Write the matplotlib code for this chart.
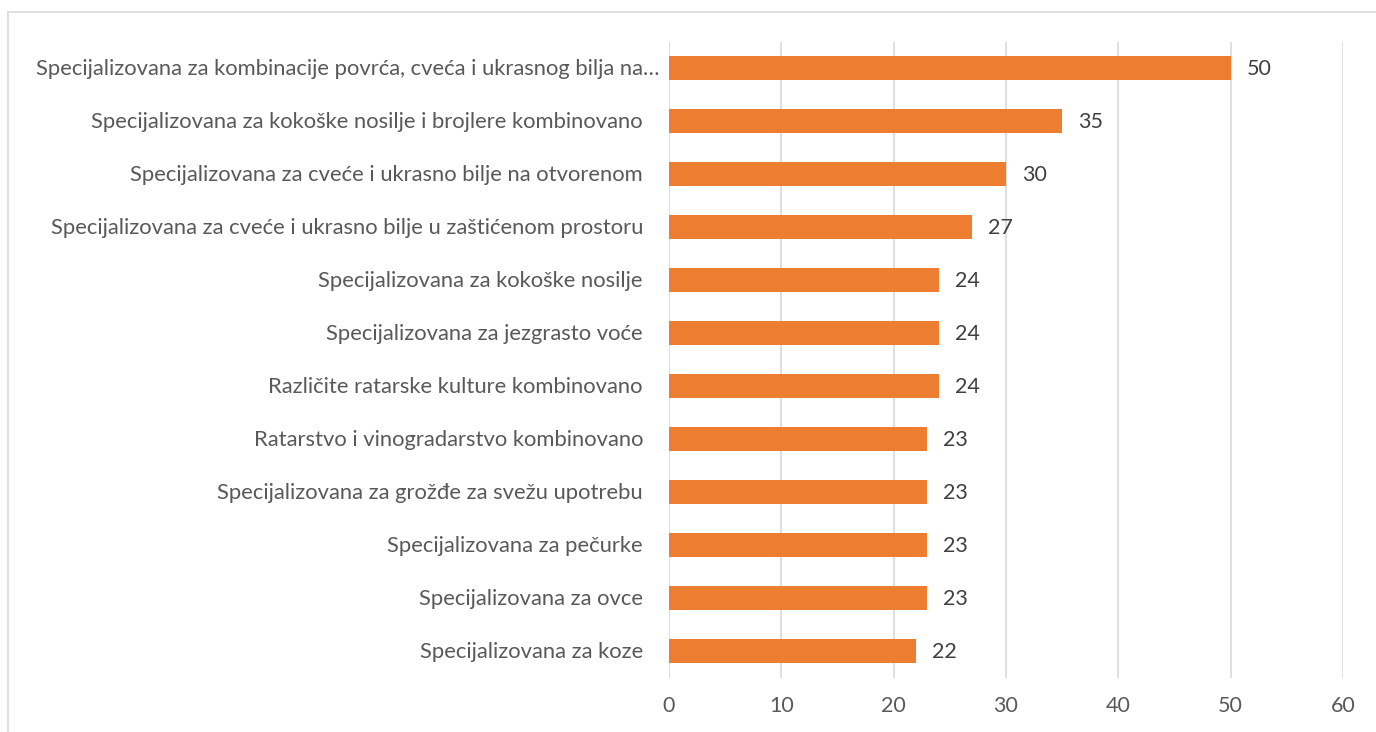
import matplotlib
matplotlib.use("Agg")
import matplotlib.pyplot as plt
from matplotlib.lines import Line2D

categories = [
    "Specijalizovana za kombinacije povrća, cveća i ukrasnog bilja na…",
    "Specijalizovana za kokoške nosilje i brojlere kombinovano",
    "Specijalizovana za cveće i ukrasno bilje na otvorenom",
    "Specijalizovana za cveće i ukrasno bilje u zaštićenom prostoru",
    "Specijalizovana za kokoške nosilje",
    "Specijalizovana za jezgrasto voće",
    "Različite ratarske kulture kombinovano",
    "Ratarstvo i vinogradarstvo kombinovano",
    "Specijalizovana za grožđe za svežu upotrebu",
    "Specijalizovana za pečurke",
    "Specijalizovana za ovce",
    "Specijalizovana za koze",
]
values = [50, 35, 30, 27, 24, 24, 24, 23, 23, 23, 23, 22]
xticks = [0, 10, 20, 30, 40, 50, 60]

plt.rcParams['font.family'] = ['Lato', 'DejaVu Sans']
txt = '#595959'

fig = plt.figure(figsize=(13.76, 7.32), dpi=100)
ax = fig.add_axes([669/1376, 1-677.5/732, (1343-669)/1376, (677.5-41.5)/732])

ypos = list(range(len(categories)))
ax.barh(ypos, values, height=0.44, color='#ED7D31', zorder=3)
for y, v in zip(ypos, values):
    ax.annotate(str(v), xy=(v, y), xytext=(16, -1), textcoords='offset pixels',
                va='center', ha='left', fontsize=15.5, color='#404040')

# category labels
for i, (y, c) in enumerate(zip(ypos, categories)):
    off = -9 if i == 0 else -26
    ax.annotate(c, xy=(0, y), xycoords=('axes fraction', 'data'), xytext=(off, -1),
                textcoords='offset pixels', va='center', ha='right',
                fontsize=15.8, color=txt, annotation_clip=False)

ax.set_ylim(len(categories) - 0.5, -0.5)
ax.set_yticks(ypos)
ax.set_yticklabels([])
ax.set_xlim(0, 60)
ax.set_xticks(xticks)
ax.set_xticklabels([str(t) for t in xticks], fontsize=15.5, color=txt)
ax.tick_params(axis='both', length=0)
ax.tick_params(axis='x', pad=13)
ax.xaxis.grid(True, color='#D9D9D9', linewidth=1.2, zorder=0)
for s in ax.spines.values():
    s.set_visible(False)

# outer chart border (partially visible)
fig.add_artist(Line2D([8/1376, 8/1376], [0, 1-12/732], color='#D9D9D9', lw=1.2, transform=fig.transFigure))
fig.add_artist(Line2D([8/1376, 1], [1-12/732, 1-12/732], color='#D9D9D9', lw=1.2, transform=fig.transFigure))

fig.savefig("out.png", dpi=100)
